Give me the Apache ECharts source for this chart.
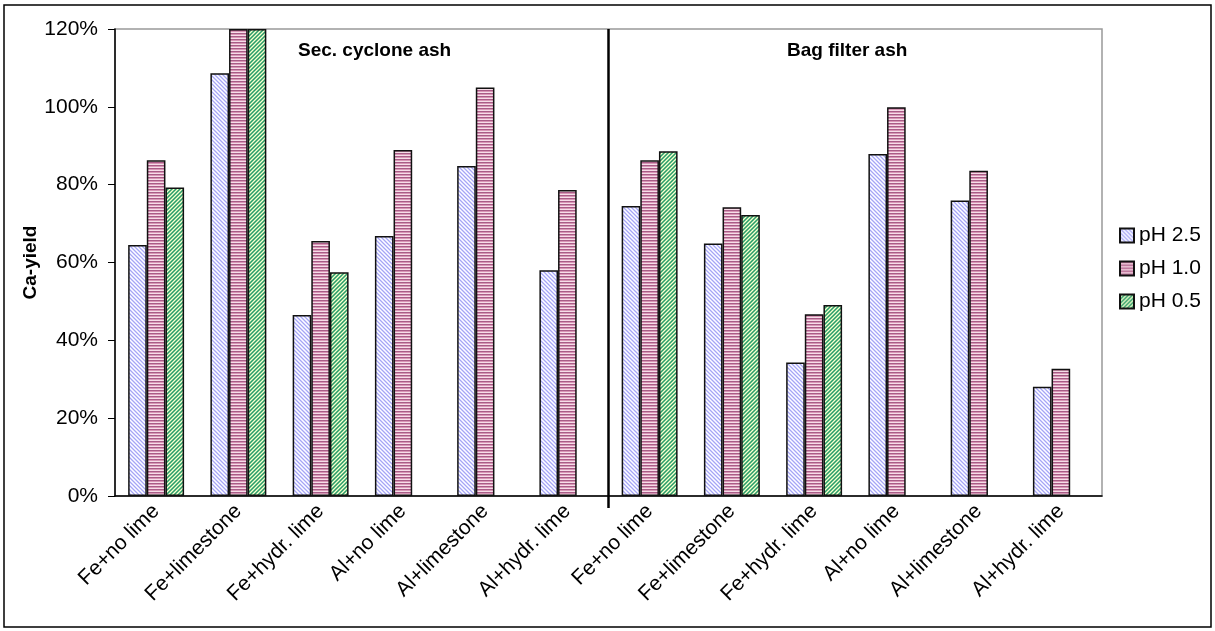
<!DOCTYPE html>
<html><head><meta charset="utf-8">
<script src="https://cdn.jsdelivr.net/npm/echarts@6/dist/echarts.min.js"></script>
<style>html,body{margin:0;padding:0;background:#fff}#c{width:1215px;height:631px}</style>
</head><body><div id="c"></div>
<script>
const categories = ['Fe+no lime','Fe+limestone','Fe+hydr. lime','Al+no lime','Al+limestone','Al+hydr. lime',
                    'Fe+no lime','Fe+limestone','Fe+hydr. lime','Al+no lime','Al+limestone','Al+hydr. lime'];
const seriesNames = ['pH 2.5','pH 1.0','pH 0.5'];
const ph25 = [64.5,108.6,46.5,66.8,84.8,58.0, 74.5,64.9,34.3,87.9,75.9,28.1];
const ph10 = [86.3,120,65.5,88.9,105.0,78.6, 86.3,74.2,46.7,99.9,83.6,32.7];
const ph05 = [79.3,120,57.5,null,null,null, 88.6,72.2,49.1,null,null,null];
const yTicks = [0,20,40,60,80,100,120];
const sectionTitles = ['Sec. cyclone ash','Bag filter ash'];
const separatorAfter = 5; // separator between category index 5 and 6

function pat(w,h,fn){const c=document.createElement('canvas');c.width=w;c.height=h;const g=c.getContext('2d');fn(g);return {image:c,repeat:'repeat'};}
const diag = (cols, dir) => g => { const n=cols.length; for(let y=0;y<n;y++)for(let x=0;x<n;x++){ const k = dir>0 ? (x+y)%n : ((x-y)%n+n)%n; g.fillStyle=cols[k]; g.fillRect(x,y,1,1);} };
const fills = [
  pat(4,4,diag(['#a6a6f2','#d6d6ff','#ffffff','#d6d6ff'],-1)),
  pat(1,3,g=>{['#a85c86','#d896b6','#f6dde8'].forEach((c,i)=>{g.fillStyle=c;g.fillRect(0,i,1,1);});}),
  pat(4,4,diag(['#2e9966','#80cc99','#ffffcc','#80cc99'],1))
];
const dataSets = [ph25, ph10, ph05];

const chart = echarts.init(document.getElementById('c'));
const font = 'Liberation Sans, Arial, sans-serif';
const series = seriesNames.map((n,i)=>({
  name:n, type:'bar', data:dataSets[i], barGap:'0%', barCategoryGap:'32%',
  itemStyle:{color:fills[i], borderColor:'#111', borderWidth:1.5}
}));
chart.setOption({
  animation:false,
  textStyle:{fontFamily:font},
  grid:{left:115,right:113,top:29,bottom:135,show:true,borderColor:'#999',borderWidth:1.5},
  title:[
    {text:sectionTitles[0], left:293, top:36, textStyle:{fontSize:19,fontWeight:'bold',color:'#000',fontFamily:font}},
    {text:sectionTitles[1], left:782, top:36, textStyle:{fontSize:19,fontWeight:'bold',color:'#000',fontFamily:font}}
  ],
  legend:{orient:'vertical', left:1114, top:220, itemWidth:14, itemHeight:14, itemGap:12, icon:'rect',
    data:seriesNames, textStyle:{fontSize:21,color:'#000',fontFamily:font}},
  xAxis:{type:'category', data:categories,
     axisLine:{lineStyle:{color:'#000',width:1.5}},
     axisTick:{length:7,lineStyle:{color:'#000'}},
     axisLabel:{rotate:45, fontSize:21, color:'#000', margin:12, interval:0}},
  yAxis:{type:'value', min:yTicks[0], max:yTicks[yTicks.length-1], interval:20,
    name:'Ca-yield', nameLocation:'middle', nameGap:75, nameMoveOverlap:false,
    nameTextStyle:{fontSize:19,fontWeight:'bold',color:'#000'},
    axisLine:{show:true,lineStyle:{color:'#000',width:1.5}},
    axisTick:{show:true,length:7,lineStyle:{color:'#000'}},
    splitLine:{show:false},
    axisLabel:{formatter:'{value}%', fontSize:21, color:'#000', margin:17}},
  series:series
});
const xa = chart.convertToPixel({xAxisIndex:0}, separatorAfter);
const xb = chart.convertToPixel({xAxisIndex:0}, separatorAfter+1);
const sx = (xa+xb)/2;
const yTop = chart.convertToPixel({yAxisIndex:0}, yTicks[yTicks.length-1]);
const yBot = chart.convertToPixel({yAxisIndex:0}, yTicks[0]);
chart.setOption({graphic:[
  {type:'rect', shape:{x:4,y:5,width:1207,height:622}, style:{fill:'none',stroke:'#000',lineWidth:1.5}, silent:true},
  {type:'line', shape:{x1:sx,y1:yTop,x2:sx,y2:yBot+12}, style:{stroke:'#000',lineWidth:2.5}, silent:true, z:10}
]});
</script></body></html>
